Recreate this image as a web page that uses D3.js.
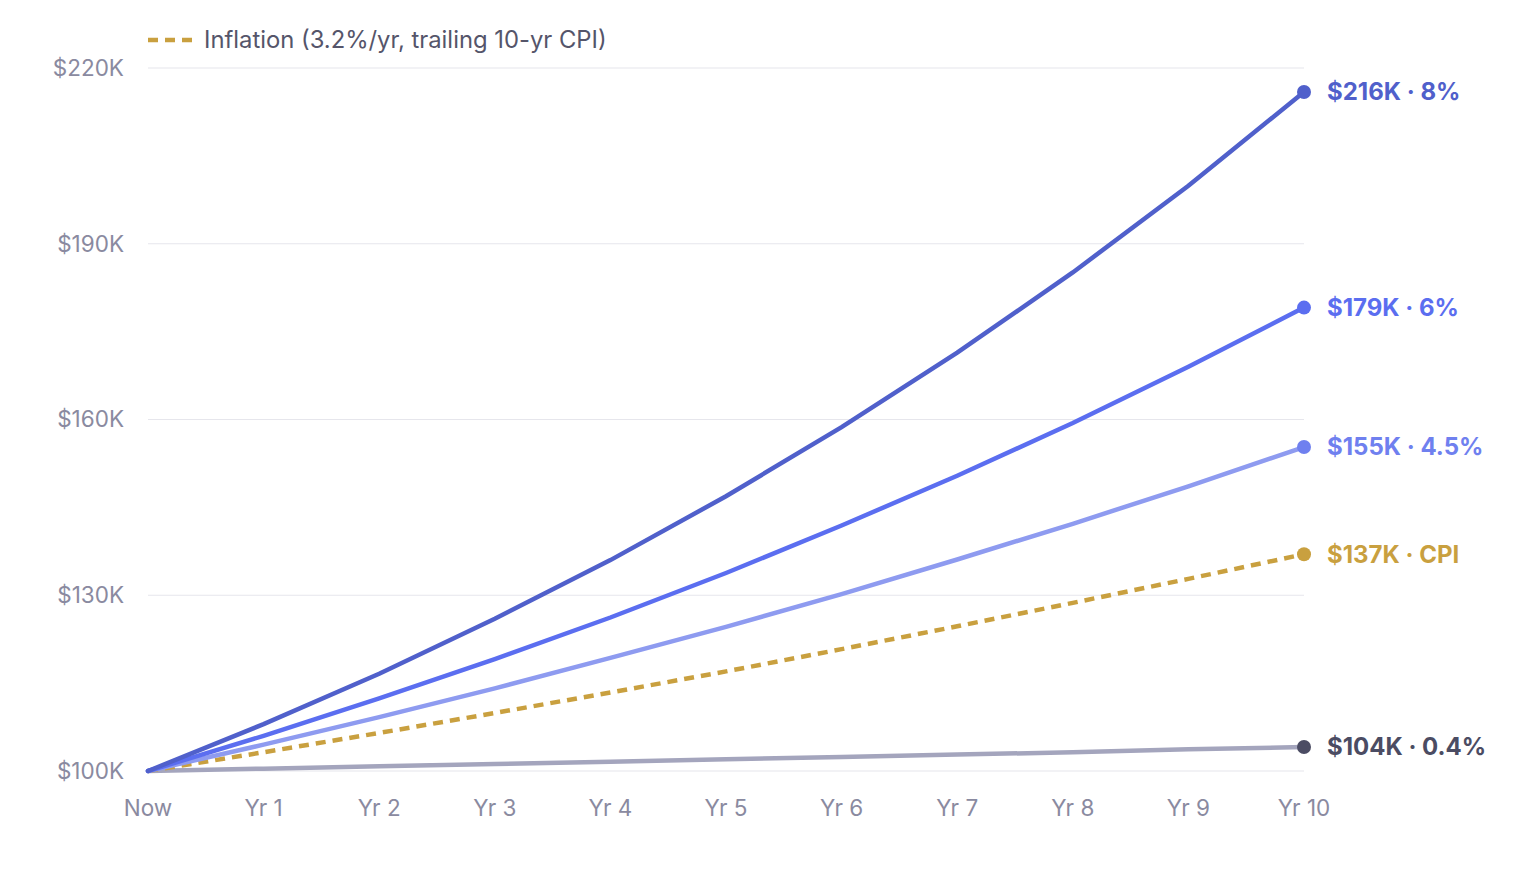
<!DOCTYPE html>
<html><head><meta charset="utf-8">
<script src="https://cdn.jsdelivr.net/npm/d3@7"></script>
<style>body{margin:0;background:#fff;font-family:Inter,"Noto Sans",sans-serif}</style>
</head><body><svg id="chart" width="1520" height="880"></svg>
<script>
// Data
var years = ["Now","Yr 1","Yr 2","Yr 3","Yr 4","Yr 5","Yr 6","Yr 7","Yr 8","Yr 9","Yr 10"];
var yTicks = [100, 130, 160, 190, 220];
var r8  = [100, 108.0, 116.6, 126.0, 136.0, 146.9, 158.7, 171.4, 185.1, 199.9, 215.9];
var r6  = [100, 106.0, 112.4, 119.1, 126.2, 133.8, 141.9, 150.4, 159.4, 169.0, 179.1];
var r45 = [100, 104.5, 109.2, 114.1, 119.3, 124.6, 130.2, 136.1, 142.2, 148.6, 155.3];
var cpi = [100, 103.2, 106.5, 109.9, 113.4, 117.0, 120.8, 124.7, 128.7, 132.8, 137.0];
var r04 = [100, 100.4, 100.8, 101.2, 101.6, 102.0, 102.4, 102.8, 103.2, 103.7, 104.1];
var seriesLabels = ["$104K · 0.4%", "$137K · CPI", "$155K · 4.5%", "$179K · 6%", "$216K · 8%"];

var series = [
  {values: r04, label: seriesLabels[0], line: "#a4a5bd", dot: "#4b4c63", text: "#4b4c63"},
  {values: cpi, label: seriesLabels[1], line: "#c9a03f", dot: "#c9a03f", text: "#c9a03f", dash: "10,7"},
  {values: r45, label: seriesLabels[2], line: "#8e9bf0", dot: "#6f80ef", text: "#6f80ef"},
  {values: r6,  label: seriesLabels[3], line: "#5b6ef0", dot: "#5b6ef0", text: "#5b6ef0"},
  {values: r8,  label: seriesLabels[4], line: "#5060cb", dot: "#5060cb", text: "#5060cb"}
];

var svg = d3.select("#chart");
var x = d3.scalePoint().domain(years).range([148, 1304]);
var y = d3.scaleLinear().domain([100, 220]).range([771, 68]);

// grid
svg.append("g").selectAll("line").data(yTicks).join("line")
  .attr("x1", 148).attr("x2", 1304)
  .attr("y1", function(d){return y(d);}).attr("y2", function(d){return y(d);})
  .attr("stroke", "#e6e6ec").attr("stroke-width", 1.2);

// y labels
svg.append("g").selectAll("text").data(yTicks).join("text")
  .attr("x", 124).attr("y", function(d){return y(d);}).attr("dy", "0.35em")
  .attr("text-anchor", "end").attr("fill", "#8a8aa0").attr("font-size", 22.5)
  .text(function(d){return "$" + d + "K";});

// x labels
svg.append("g").selectAll("text").data(years).join("text")
  .attr("x", function(d){return x(d);}).attr("y", 816)
  .attr("text-anchor", "middle").attr("fill", "#8a8aa0").attr("font-size", 22.5)
  .text(function(d){return d;});

var line = d3.line().x(function(d, i){return x(years[i]);}).y(function(d){return y(d);});

series.forEach(function(s){
  svg.append("path").datum(s.values).attr("d", line)
    .attr("fill", "none").attr("stroke", s.line).attr("stroke-width", 4.5)
    .attr("stroke-linecap", s.dash ? "butt" : "round")
    .attr("stroke-dasharray", s.dash || null);
  var last = s.values[s.values.length - 1];
  svg.append("circle").attr("cx", x(years[years.length-1])).attr("cy", y(last))
    .attr("r", 7).attr("fill", s.dot);
  svg.append("text").attr("x", 1327).attr("y", y(last)).attr("dy", "0.35em")
    .attr("fill", s.text).attr("font-size", 24).attr("font-weight", 700)
    .text(s.label);
});

// legend
svg.append("line").attr("x1", 148).attr("x2", 192).attr("y1", 40).attr("y2", 40)
  .attr("stroke", "#c9a03f").attr("stroke-width", 4.5).attr("stroke-dasharray", "10,7");
svg.append("text").attr("x", 204).attr("y", 40).attr("dy", "0.35em")
  .attr("fill", "#55556a").attr("font-size", 23.8)
  .text("Inflation (3.2%/yr, trailing 10-yr CPI)");
</script></body></html>
